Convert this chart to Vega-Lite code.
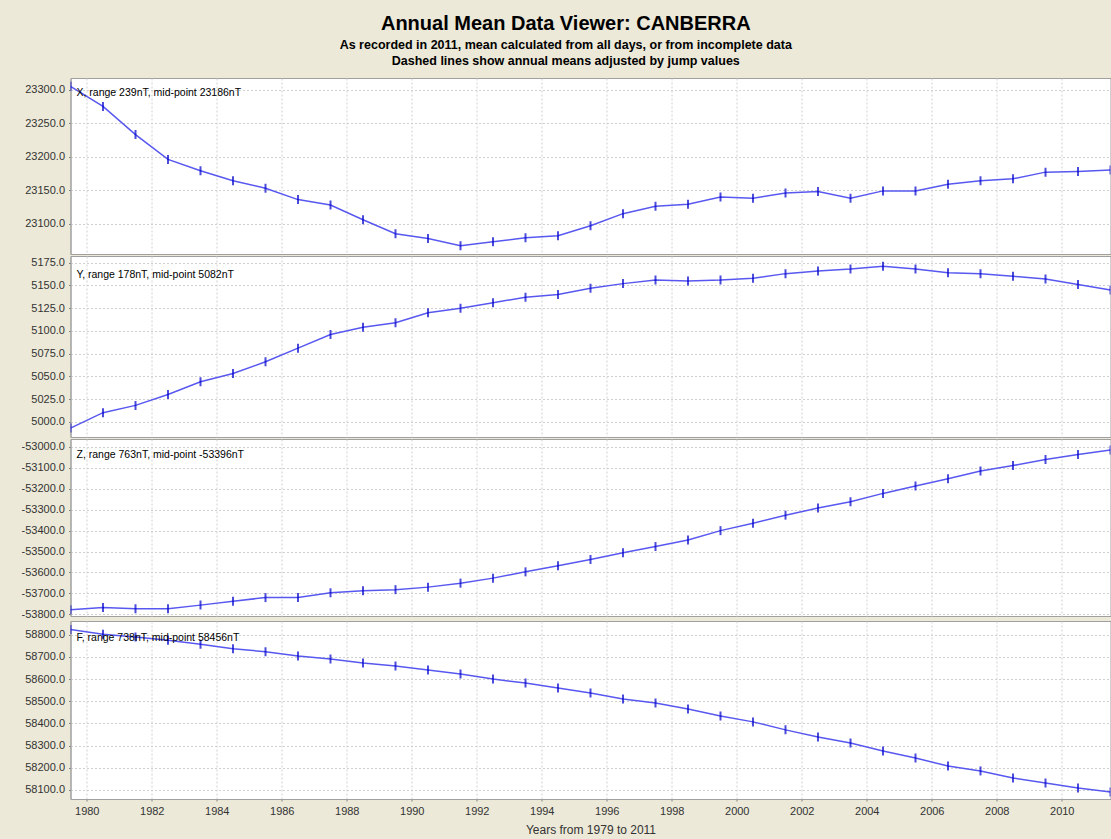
{
  "$schema": "https://vega.github.io/schema/vega-lite/v6.json",
  "background": "#ECE9D8",
  "padding": {"left": 20.5, "top": 14, "right": 0, "bottom": 5},
  "title": {
    "text": "Annual Mean Data Viewer: CANBERRA",
    "subtitle": ["As recorded in 2011, mean calculated from all days, or from incomplete data", "Dashed lines show annual means adjusted by jump values"],
    "anchor": "middle",
    "font": "Liberation Sans",
    "fontSize": 20,
    "fontWeight": "bold",
    "color": "black",
    "subtitleFont": "Liberation Sans",
    "subtitleFontSize": 12.5,
    "subtitleFontWeight": "bold",
    "subtitleColor": "black",
    "subtitlePadding": 5,
    "subtitleLineHeight": 16,
    "offset": 10
  },
  "datasets": {
    "mag": [
      {"year": 1979.5, "X": 23305, "Y": 4993, "Z": -53778, "F": 58823},
      {"year": 1980.5, "X": 23275, "Y": 5010, "Z": -53767, "F": 58802},
      {"year": 1981.5, "X": 23233, "Y": 5018, "Z": -53773, "F": 58790},
      {"year": 1982.5, "X": 23196, "Y": 5030, "Z": -53773, "F": 58775},
      {"year": 1983.5, "X": 23179, "Y": 5044, "Z": -53756, "F": 58757},
      {"year": 1984.5, "X": 23164, "Y": 5053, "Z": -53737, "F": 58737},
      {"year": 1985.5, "X": 23153, "Y": 5066, "Z": -53720, "F": 58723},
      {"year": 1986.5, "X": 23136, "Y": 5081, "Z": -53719, "F": 58704},
      {"year": 1987.5, "X": 23128, "Y": 5096, "Z": -53697, "F": 58690},
      {"year": 1988.5, "X": 23106, "Y": 5104, "Z": -53687, "F": 58672},
      {"year": 1989.5, "X": 23085, "Y": 5109, "Z": -53682, "F": 58659},
      {"year": 1990.5, "X": 23078, "Y": 5120, "Z": -53670, "F": 58641},
      {"year": 1991.5, "X": 23067, "Y": 5125, "Z": -53651, "F": 58623},
      {"year": 1992.5, "X": 23073, "Y": 5131, "Z": -53627, "F": 58600},
      {"year": 1993.5, "X": 23079, "Y": 5137, "Z": -53597, "F": 58582},
      {"year": 1994.5, "X": 23082, "Y": 5140, "Z": -53568, "F": 58560},
      {"year": 1995.5, "X": 23097, "Y": 5147, "Z": -53538, "F": 58537},
      {"year": 1996.5, "X": 23115, "Y": 5152, "Z": -53506, "F": 58510},
      {"year": 1997.5, "X": 23126, "Y": 5156, "Z": -53476, "F": 58492},
      {"year": 1998.5, "X": 23129, "Y": 5155, "Z": -53445, "F": 58465},
      {"year": 1999.5, "X": 23140, "Y": 5156, "Z": -53400, "F": 58434},
      {"year": 2000.5, "X": 23138, "Y": 5158, "Z": -53365, "F": 58407},
      {"year": 2001.5, "X": 23146, "Y": 5163, "Z": -53326, "F": 58371},
      {"year": 2002.5, "X": 23148, "Y": 5166, "Z": -53292, "F": 58339},
      {"year": 2003.5, "X": 23138, "Y": 5168, "Z": -53262, "F": 58312},
      {"year": 2004.5, "X": 23149, "Y": 5171, "Z": -53222, "F": 58276},
      {"year": 2005.5, "X": 23149, "Y": 5168, "Z": -53187, "F": 58244},
      {"year": 2006.5, "X": 23159, "Y": 5164, "Z": -53152, "F": 58208},
      {"year": 2007.5, "X": 23164, "Y": 5163, "Z": -53115, "F": 58186},
      {"year": 2008.5, "X": 23167, "Y": 5160, "Z": -53089, "F": 58154},
      {"year": 2009.5, "X": 23177, "Y": 5157, "Z": -53060, "F": 58132},
      {"year": 2010.5, "X": 23178, "Y": 5151, "Z": -53036, "F": 58109},
      {"year": 2011.5, "X": 23180, "Y": 5145, "Z": -53015, "F": 58091}
    ]
  },
  "spacing": 0,
  "vconcat": [
    {
      "width": 1040,
      "height": 176,
      "title": {"text": "X, range 239nT, mid-point 23186nT", "anchor": "start", "frame": "group", "orient": "top", "offset": -20, "dx": 6, "font": "Liberation Sans", "fontSize": 10.5, "fontWeight": "normal", "color": "black"},
      "data": {"name": "mag"},
      "encoding": {
        "x": {"field": "year", "type": "quantitative", "scale": {"domain": [1979.5, 2011.5], "nice": false, "zero": false},
          "axis": {"values": [1980, 1982, 1984, 1986, 1988, 1990, 1992, 1994, 1996, 1998, 2000, 2002, 2004, 2006, 2008, 2010], "labels": false, "ticks": false, "domain": false, "title": null, "grid": true}},
        "y": {"field": "X", "type": "quantitative", "scale": {"domain": [23054.8, 23317.5], "nice": false, "zero": false},
          "axis": {"values": [23100, 23150, 23200, 23250, 23300], "labelExpr": "(datum.value < 0 ? '-' : '') + format(abs(datum.value), '.1f')", "title": null, "grid": true}}
      },
      "layer": [
        {"mark": {"type": "line", "color": "#5858f0", "strokeWidth": 1.5, "clip": true}},
        {"mark": {"type": "tick", "orient": "vertical", "color": "#0000cc", "size": 9, "thickness": 2, "clip": true}}
      ]
    },
    {
      "width": 1040,
      "height": 181,
      "title": {"text": "Y, range 178nT, mid-point 5082nT", "anchor": "start", "frame": "group", "orient": "top", "offset": -24, "dx": 6, "font": "Liberation Sans", "fontSize": 10.5, "fontWeight": "normal", "color": "black"},
      "data": {"name": "mag"},
      "encoding": {
        "x": {"field": "year", "type": "quantitative", "scale": {"domain": [1979.5, 2011.5], "nice": false, "zero": false},
          "axis": {"values": [1980, 1982, 1984, 1986, 1988, 1990, 1992, 1994, 1996, 1998, 2000, 2002, 2004, 2006, 2008, 2010], "labels": false, "ticks": false, "domain": false, "title": null, "grid": true}},
        "y": {"field": "Y", "type": "quantitative", "scale": {"domain": [4983.2, 5182.4], "nice": false, "zero": false},
          "axis": {"values": [5000, 5025, 5050, 5075, 5100, 5125, 5150, 5175], "labelExpr": "(datum.value < 0 ? '-' : '') + format(abs(datum.value), '.1f')", "title": null, "grid": true}}
      },
      "layer": [
        {"mark": {"type": "line", "color": "#5858f0", "strokeWidth": 1.5, "clip": true}},
        {"mark": {"type": "tick", "orient": "vertical", "color": "#0000cc", "size": 9, "thickness": 2, "clip": true}}
      ]
    },
    {
      "width": 1040,
      "height": 177,
      "title": {"text": "Z, range 763nT, mid-point -53396nT", "anchor": "start", "frame": "group", "orient": "top", "offset": -21, "dx": 6, "font": "Liberation Sans", "fontSize": 10.5, "fontWeight": "normal", "color": "black"},
      "data": {"name": "mag"},
      "encoding": {
        "x": {"field": "year", "type": "quantitative", "scale": {"domain": [1979.5, 2011.5], "nice": false, "zero": false},
          "axis": {"values": [1980, 1982, 1984, 1986, 1988, 1990, 1992, 1994, 1996, 1998, 2000, 2002, 2004, 2006, 2008, 2010], "labels": false, "ticks": false, "domain": false, "title": null, "grid": true}},
        "y": {"field": "Z", "type": "quantitative", "scale": {"domain": [-53808, -52962], "nice": false, "zero": false},
          "axis": {"values": [-53800, -53700, -53600, -53500, -53400, -53300, -53200, -53100, -53000], "labelExpr": "(datum.value < 0 ? '-' : '') + format(abs(datum.value), '.1f')", "title": null, "grid": true}}
      },
      "layer": [
        {"mark": {"type": "line", "color": "#5858f0", "strokeWidth": 1.5, "clip": true}},
        {"mark": {"type": "tick", "orient": "vertical", "color": "#0000cc", "size": 9, "thickness": 2, "clip": true}}
      ]
    },
    {
      "width": 1040,
      "height": 178,
      "title": {"text": "F, range 738nT, mid-point 58456nT", "anchor": "start", "frame": "group", "orient": "top", "offset": -22, "dx": 6, "font": "Liberation Sans", "fontSize": 10.5, "fontWeight": "normal", "color": "black"},
      "data": {"name": "mag"},
      "encoding": {
        "x": {"field": "year", "type": "quantitative", "scale": {"domain": [1979.5, 2011.5], "nice": false, "zero": false},
          "axis": {"values": [1980, 1982, 1984, 1986, 1988, 1990, 1992, 1994, 1996, 1998, 2000, 2002, 2004, 2006, 2008, 2010], "format": "d", "title": "Years from 1979 to 2011", "titleFontSize": 12, "titleFontWeight": "normal", "titlePadding": 8, "labelPadding": 4, "grid": true, "labelFlush": false}},
        "y": {"field": "F", "type": "quantitative", "scale": {"domain": [58059.4, 58861.7], "nice": false, "zero": false},
          "axis": {"values": [58100, 58200, 58300, 58400, 58500, 58600, 58700, 58800], "labelExpr": "(datum.value < 0 ? '-' : '') + format(abs(datum.value), '.1f')", "title": null, "grid": true}}
      },
      "layer": [
        {"mark": {"type": "line", "color": "#5858f0", "strokeWidth": 1.5, "clip": true}},
        {"mark": {"type": "tick", "orient": "vertical", "color": "#0000cc", "size": 9, "thickness": 2, "clip": true}}
      ]
    }
  ],
  "config": {
    "view": {"fill": "white", "stroke": "#a0a0a0", "strokeWidth": 1},
    "axis": {
      "labelFont": "Liberation Sans",
      "labelFontSize": 11,
      "labelColor": "#333333",
      "labelPadding": 4,
      "tickSize": 2,
      "tickColor": "#808080",
      "domainColor": "#a0a0a0",
      "gridColor": "#d0d0d0",
      "gridDash": [2, 2],
      "gridWidth": 1,
      "titleFont": "Liberation Sans",
      "titleColor": "#333333"
    }
  }
}
